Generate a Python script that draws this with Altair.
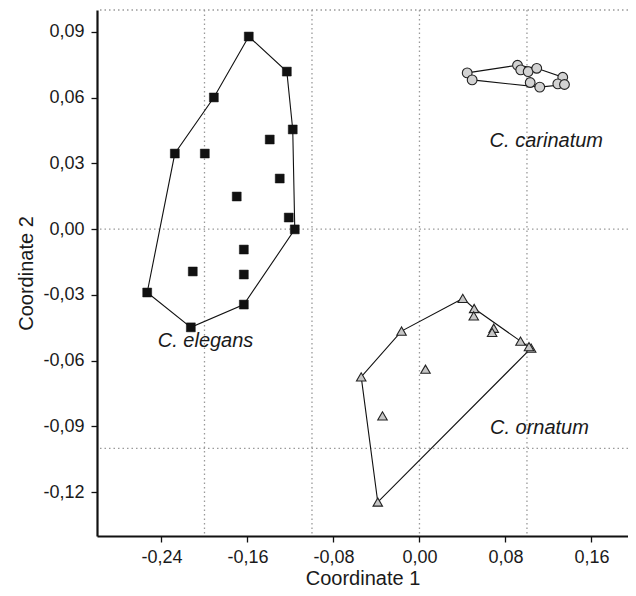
import altair as alt
import pandas as pd

# --- data ---
elegans_x = [-0.1588, -0.1234, -0.1913, -0.1179, -0.1393, -0.2276, -0.1997, -0.1300, -0.1700,
             -0.1216, -0.1160, -0.1634, -0.2109, -0.1634, -0.2533, -0.1634, -0.2127]
elegans_y = [0.0879, 0.0719, 0.0601, 0.0455, 0.0409, 0.0345, 0.0345, 0.0231, 0.0149,
             0.0053, -0.0001, -0.0093, -0.0193, -0.0207, -0.0289, -0.0344, -0.0448]
elegans_hull = [0, 1, 3, 10, 15, 16, 14, 5, 2, 0]

carinatum_x = [0.0444, 0.0490, 0.0912, 0.0942, 0.1011, 0.1091, 0.1030, 0.1119, 0.1333, 0.1287, 0.1349]
carinatum_y = [0.0713, 0.0681, 0.0748, 0.0727, 0.0719, 0.0734, 0.0669, 0.0648, 0.0693, 0.0663, 0.0660]
carinatum_hull = [0, 2, 5, 8, 10, 7, 1, 0]

ornatum_x = [0.0403, 0.0509, 0.0505, 0.0691, 0.0676, 0.0940, 0.1039, 0.1019, -0.0167, 0.0056,
             -0.0542, -0.0344, -0.0388]
ornatum_y = [-0.0316, -0.0362, -0.0396, -0.0452, -0.0471, -0.0511, -0.0543, -0.0536, -0.0465,
             -0.0639, -0.0674, -0.0852, -0.1245]
ornatum_hull = [0, 1, 5, 6, 12, 10, 8, 0]

label_text = ["C. carinatum", "C. elegans", "C. ornatum"]
label_x = [0.118, -0.199, 0.1116]
label_y = [0.0401, -0.0511, -0.0909]

x_ticks = [-0.24, -0.16, -0.08, 0.0, 0.08, 0.16]
y_ticks = [-0.12, -0.09, -0.06, -0.03, 0.0, 0.03, 0.06, 0.09]
x_grid = [-0.2, -0.1, 0.0, 0.1]
y_grid = [-0.1, 0.0, 0.1]

FONT = "Liberation Sans"

xs = alt.Scale(domain=[-0.3, 0.194], nice=False, zero=False)
ys = alt.Scale(domain=[-0.14, 0.1], nice=False, zero=False)

lab_expr = "(datum.value < 0 ? '-' : '') + replace(format(abs(datum.value), '.2f'), '.', ',')"

def pts(name, xv, yv):
    return pd.DataFrame({"x": xv, "y": yv, "sp": name})

def hull(name, xv, yv, idx):
    return pd.DataFrame({"x": [xv[i] for i in idx], "y": [yv[i] for i in idx],
                         "o": list(range(len(idx))), "sp": name})

points_el = pts("elegans", elegans_x, elegans_y)
points_ca = pts("carinatum", carinatum_x, carinatum_y)
points_or = pts("ornatum", ornatum_x, ornatum_y)

hulls = pd.concat([
    hull("elegans", elegans_x, elegans_y, elegans_hull),
    hull("carinatum", carinatum_x, carinatum_y, carinatum_hull),
    hull("ornatum", ornatum_x, ornatum_y, ornatum_hull),
])

axis_common = dict(grid=False, domainColor="#111111", domainWidth=2.2, tickColor="#111111",
                   tickWidth=1.3, tickSize=6, labelFontSize=18, labelFont=FONT,
                   labelColor="#1a1a1a", titleFontSize=20, titleFont=FONT,
                   titleFontWeight="normal", titleColor="#1a1a1a", labelExpr=lab_expr)
x_axis = alt.Axis(values=x_ticks, title="Coordinate 1", labelPadding=6, titlePadding=2,
                  **axis_common)
y_axis = alt.Axis(values=y_ticks, title="Coordinate 2", labelPadding=7, titlePadding=6,
                  **axis_common)

X = lambda f: alt.X(f, scale=xs, axis=x_axis)
Y = lambda f: alt.Y(f, scale=ys, axis=y_axis)

grid_style = dict(color="#9a9a9a", strokeWidth=1.3, strokeDash=[1.5, 3])

xgrid = alt.Chart(pd.DataFrame({"g": x_grid})).mark_rule(**grid_style).encode(x=X("g:Q"))
ygrid = alt.Chart(pd.DataFrame({"g": y_grid})).mark_rule(**grid_style).encode(y=Y("g:Q"))

hull_lines = alt.Chart(hulls).mark_line(color="#111111", strokeWidth=1.1).encode(
    x=X("x:Q"), y=Y("y:Q"), detail="sp:N", order="o:Q",
)

el = alt.Chart(points_el).mark_point(shape="square", filled=True, fill="#111111",
                                     stroke="#111111", strokeWidth=0.5, size=80, opacity=1).encode(
    x=X("x:Q"), y=Y("y:Q"))
ca = alt.Chart(points_ca).mark_point(shape="circle", filled=True, fill="#d2d2d2",
                                     stroke="#222222", strokeWidth=1.1, size=95, opacity=1).encode(
    x=X("x:Q"), y=Y("y:Q"))
orn = alt.Chart(points_or).mark_point(shape="triangle-up", filled=True, fill="#c6c6c6",
                                      stroke="#222222", strokeWidth=1.1, size=90, opacity=1).encode(
    x=X("x:Q"), y=Y("y:Q"))

labels = alt.Chart(pd.DataFrame({"t": label_text, "x": label_x, "y": label_y})).mark_text(
    font=FONT, fontSize=20, fontStyle="italic", color="#1a1a1a", align="center", baseline="middle"
).encode(x=X("x:Q"), y=Y("y:Q"), text="t:N")

chart = alt.layer(xgrid, ygrid, hull_lines, el, ca, orn, labels).properties(
    width=531, height=526,
    autosize=alt.AutoSizeParams(type="none"),
    padding={"left": 89, "top": 2, "right": 0, "bottom": 52},
    background="white",
).configure_view(stroke=None)

chart.save("out.html", embed_options={"renderer": "svg", "actions": False})
